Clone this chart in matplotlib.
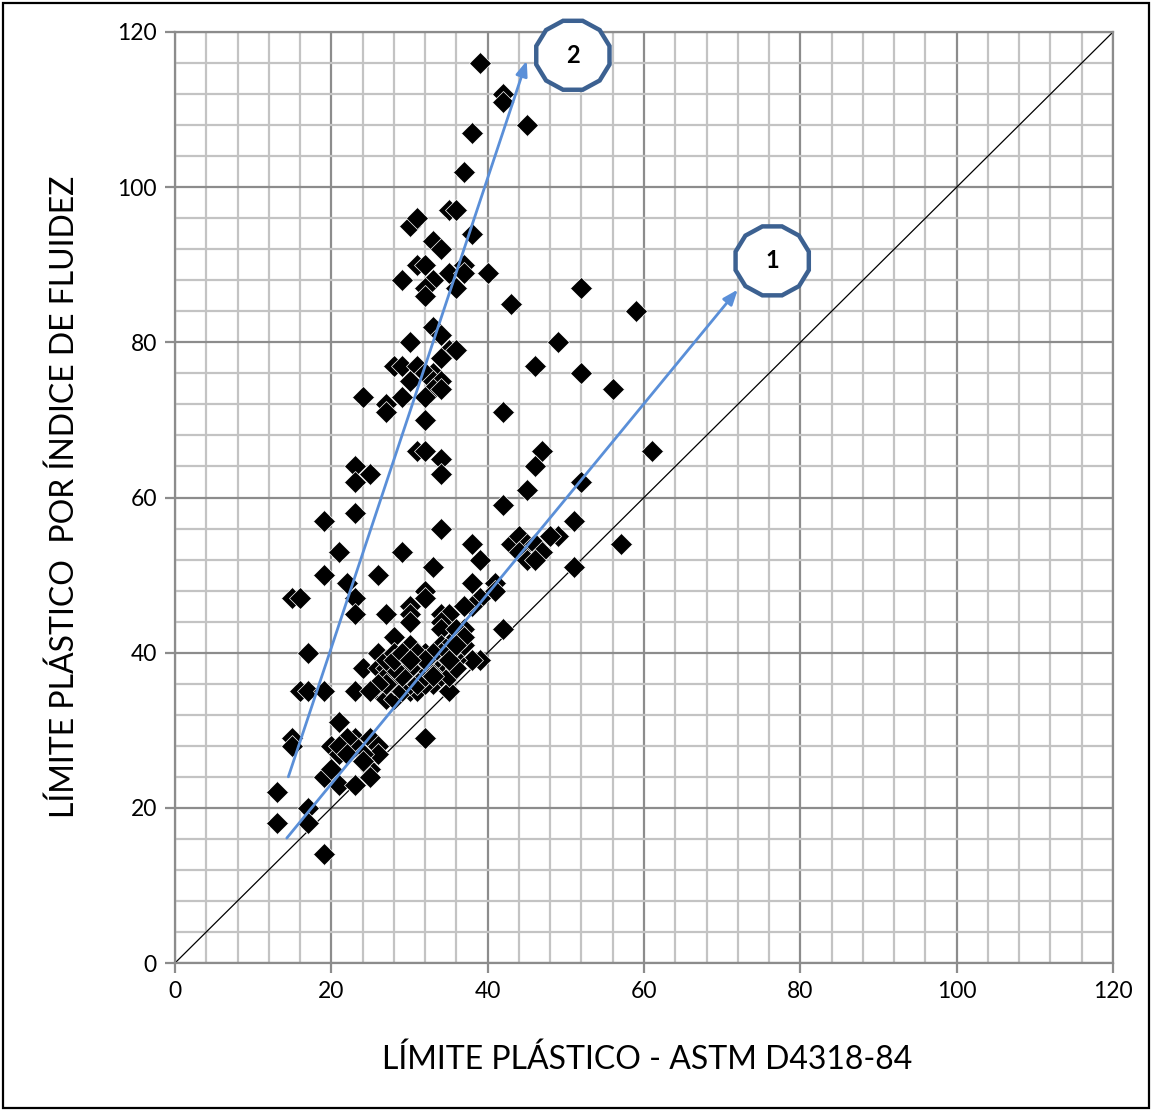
import numpy as np
import matplotlib
matplotlib.use("Agg")
import matplotlib.pyplot as plt
from matplotlib.patches import Polygon, Rectangle

plt.rcParams['font.family'] = ['Lato', 'DejaVu Sans']

# Límite plástico ASTM (x) vs límite plástico por índice de fluidez (y)
lp_astm = [
    39, 42, 42, 45, 38, 37, 35, 36, 30, 31, 33, 34, 38, 31, 32, 35, 37, 37, 40, 29,
    33, 32, 32, 36, 33, 34, 30, 35, 36, 34, 28, 29, 31, 33, 32, 30, 33, 34, 33, 34,
    29, 32, 24, 27, 27, 32, 31, 32, 34, 34, 23, 23, 25, 42,
    52, 43, 59, 49, 46, 52, 56, 61, 47, 46, 45, 52, 42, 51, 49, 57, 51, 34,
    19, 23, 21, 29, 33, 19, 22, 26, 15, 16, 23, 23, 27, 32, 32, 30, 30, 30, 34, 35,
    38, 39, 43, 44, 45, 46, 47, 44, 45, 46, 48, 38, 41, 41, 39, 38, 37, 42, 37, 34,
    17, 28, 30, 29, 26, 24, 26, 27, 32, 34, 34, 35, 36, 36, 31, 39, 38, 35, 16, 17,
    19, 23, 26, 27, 28, 29, 30, 31, 33, 34, 32,
    27, 28, 29, 30, 30, 31, 31, 32, 32, 33, 33, 34, 34, 33, 35, 35, 36, 36, 37, 37,
    36, 33, 31, 30, 29, 28, 27, 26, 25, 27, 28, 28, 29, 31, 32, 30, 35, 35, 36,
    21, 15, 15, 20, 23, 23, 21, 25, 26, 26, 24, 25, 24, 19, 20, 21, 23, 25, 32, 13,
    17, 13, 17, 19, 22, 21, 22,
]
lp_fluidez = [
    116, 112, 111, 108, 107, 102, 97, 97, 95, 96, 93, 92, 94, 90, 90, 89, 90, 89, 89, 88,
    88, 87, 86, 87, 82, 81, 80, 79, 79, 78, 77, 77, 77, 76, 76, 75, 75, 75, 74, 74,
    73, 73, 73, 72, 71, 70, 66, 66, 65, 63, 64, 62, 63, 71,
    87, 85, 84, 80, 77, 76, 74, 66, 66, 64, 61, 62, 59, 57, 55, 54, 51, 56,
    57, 58, 53, 53, 51, 50, 49, 50, 47, 47, 47, 45, 45, 48, 47, 46, 45, 44, 45, 45,
    54, 52, 54, 55, 54, 54, 53, 53, 52, 52, 55, 49, 49, 48, 47, 46, 46, 43, 43, 44,
    40, 42, 41, 39, 40, 38, 38, 38, 40, 43, 41, 41, 42, 43, 38, 39, 39, 35, 35, 35,
    35, 35, 35, 34, 34, 36, 35, 35, 36, 37, 36,
    37, 36, 35, 36, 37, 37, 36, 37, 38, 38, 39, 39, 40, 40, 38, 37, 39, 40, 41, 42,
    38, 37, 39, 38, 37, 38, 36, 36, 35, 39, 40, 39, 40, 40, 39, 39, 40, 39, 41,
    31, 29, 28, 28, 29, 28, 27, 29, 28, 27, 27, 25, 26, 24, 25, 23, 23, 24, 29, 22,
    20, 18, 18, 14, 29, 28, 27,
]

# Tendencias señaladas con flechas (inicio, fin) y etiquetas en los polígonos
tendencias = {'1': ((14.3, 16.1), (72.0, 86.8)),
              '2': ((14.5, 24.0), (45.0, 116.3))}
etiquetas = {'1': (76.4, 90.5), '2': (50.9, 117.0)}

fig = plt.figure(figsize=(11.52, 11.10), dpi=100)
ax = fig.add_axes([175 / 1152, 1 - 963 / 1110, (1113 - 175) / 1152, (963 - 32) / 1110])

ax.set_xlim(0, 120)
ax.set_ylim(0, 120)
ax.set_xticks(np.arange(0, 121, 20))
ax.set_yticks(np.arange(0, 121, 20))
ax.set_xticks(np.arange(0, 121, 4), minor=True)
ax.set_yticks(np.arange(0, 121, 4), minor=True)
ax.grid(which='minor', color='#c3c3c3', linewidth=1.6, zorder=0)
ax.grid(which='major', color='#8c8c8c', linewidth=1.6, zorder=0)
ax.set_axisbelow(True)
for s in ax.spines.values():
    s.set_color('#8c8c8c')
    s.set_linewidth(1.6)
ax.tick_params(which='major', length=7, width=1.6, color='#8c8c8c',
               labelsize=16.5, pad=6)
ax.tick_params(which='minor', length=0)

# Línea de igualdad 1:1
ax.plot([0, 120], [0, 120], color='black', linewidth=0.9, zorder=2)

ax.plot(lp_astm, lp_fluidez, linestyle='none', marker='D', markersize=11.5,
        markerfacecolor='black', markeredgecolor='white', markeredgewidth=0.5,
        zorder=3)

for k, (ini, fin) in tendencias.items():
    ax.annotate('', xy=fin, xytext=ini,
                arrowprops=dict(arrowstyle='-|>,head_length=0.9,head_width=0.35',
                                color='#5a8fd8', linewidth=2, shrinkA=0, shrinkB=0),
                zorder=4, annotation_clip=False)

# Polígonos de 12 lados con el número de la tendencia
ang = np.pi / 12 + np.arange(12) * 2 * np.pi / 12
for k, (cx, cy) in etiquetas.items():
    verts = np.column_stack([cx + 4.85 * np.cos(ang), cy + 4.6 * np.sin(ang)])
    ax.add_patch(Polygon(verts, closed=True, facecolor='white', edgecolor='#3c6191',
                         linewidth=3.2, zorder=5, clip_on=False))
    ax.text(cx, cy, k, ha='center', va='center', fontsize=17, fontweight='bold',
            zorder=6, clip_on=False)

fig.text(647 / 1152, 1 - 1060 / 1110, 'LÍMITE PLÁSTICO - ASTM D4318-84',
         ha='center', va='center', fontsize=23)
fig.text(65 / 1152, 1 - 497 / 1110, 'LÍMITE PLÁSTICO  POR ÍNDICE DE FLUIDEZ',
         ha='center', va='center', rotation=90, fontsize=23)

# Marco exterior del gráfico
fig.patches.append(Rectangle((3 / 1152, 2 / 1110), 1146 / 1152, 1105 / 1110,
                             transform=fig.transFigure, fill=False,
                             edgecolor='black', linewidth=1.6))

fig.savefig('out.png', dpi=100)
